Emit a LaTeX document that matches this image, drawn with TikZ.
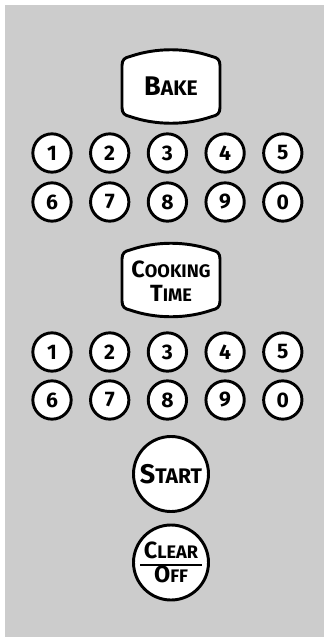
\documentclass[tikz,border=0pt]{standalone}
\usepackage{fontspec}
\setsansfont{Fira Sans}
\usetikzlibrary{positioning}
% fake small caps: big first letter, smaller rest
\newcommand\kcap[2]{{\fontsize{23}{24}\selectfont #1}{\fontsize{18}{24}\selectfont #2}}
\newcommand\kcapm[2]{{\fontsize{20}{21}\selectfont #1}{\fontsize{15.5}{21}\selectfont #2}}
\tikzset{
  keyline/.style={draw=black,line width=2.5pt,fill=white},
  numkey/.style={keyline,circle,minimum size=1.15cm,inner sep=0pt,
    font=\sffamily\bfseries\fontsize{18}{18}\selectfont},
  roundkey/.style={keyline,circle,minimum size=2.25cm,inner sep=0pt,align=center,
    font=\sffamily\bfseries\fontsize{15}{21}\selectfont},
  keytext/.style={inner sep=0pt,align=center,
    font=\sffamily\bfseries\fontsize{15}{21}\selectfont},
  % barrel shaped key, 98 x 73 px
  barrelkey/.pic={
    \draw[keyline] (-49,-21) -- (-49,21)
      .. controls (-49,27) and (-46,29) .. (-41,30)
      .. controls (-15,39) and (15,39) .. (41,30)
      .. controls (46,29) and (49,27) .. (49,21)
      -- (49,-21)
      .. controls (49,-27) and (46,-29) .. (41,-30)
      .. controls (15,-39) and (-15,-39) .. (-41,-30)
      .. controls (-46,-29) and (-49,-27) .. (-49,-21) -- cycle;
  },
}
\begin{document}
\begin{tikzpicture}[x=0.03cm,y=-0.03cm]
\useasboundingbox (0,0) rectangle (324,637);
% panel background
\fill[gray!40] (5,5) rectangle (324,637);

%% bake key
\pic at (171,86.5) {barrelkey};
\node[keytext] (bake) at (171,86.5) {\kcap{B}{AKE}};

%% number pads
\foreach \set/\ya/\yb in {a/153/202, b/352/400}{
  \foreach \d [count=\i from 0] in {1,2,3,4,5}{
    \node[numkey] (\set\d) at ({52+57.7*\i},\ya) {\d};
  }
  \foreach \d [count=\i from 0] in {6,7,8,9,0}{
    \node[numkey] (\set\d) at ({52+57.7*\i},\yb) {\d};
  }
}

%% cooking time key
\pic at (171,280) {barrelkey};
\node[keytext] (cook) at (171,281) {\kcapm{C}{OOKING}\\\kcapm{T}{IME}};

%% start and clear/off
\node[roundkey] (start) at (171,474) {\kcap{S}{TART}};
\node[roundkey] (clear) at (171,562.5) {\kcapm{C}{LEAR}\\\kcapm{O}{FF}};
\coordinate (barL) at ([xshift=-0.92cm,yshift=-0.08cm]clear.center);
\coordinate (barR) at ([xshift=0.92cm,yshift=-0.08cm]clear.center);
\draw[line width=2pt] (barL) -- (barR);
\end{tikzpicture}
\end{document}
